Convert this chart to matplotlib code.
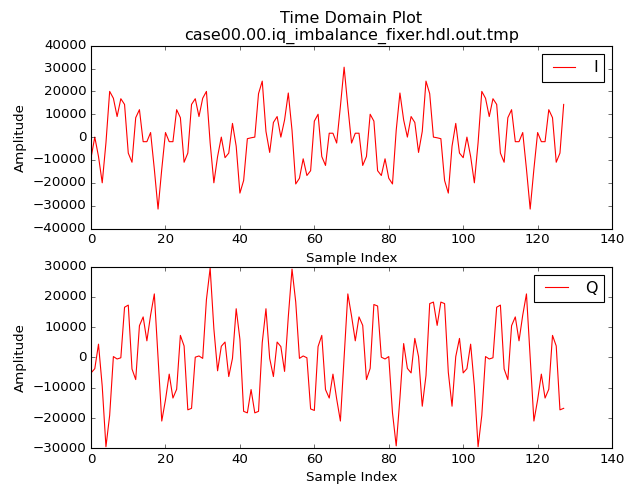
import matplotlib
matplotlib.use('Agg')
import matplotlib.pyplot as plt

# I / Q samples
I_VALS = [-9000, 0, -8500, -20000, -2500, 20000, 17000, 9000, 16800, 14300,
          -7000, -11000, 8500, 12000, -2000, -2000, 2000, -14000, -31500, -14000,
          2000, -2000, -2000, 12000, 8500, -11000, -7000, 14300, 16800, 9000,
          17000, 20000, -2500, -20000, -8500, 0, -9000, -7000, 6000, -4000,
          -24500, -19000, -700, -300, 0, 19000, 24500, 2500, -6700, 6400,
          9000, 0, 7500, 19300, 3000, -20500, -18000, -9500, -16800, -14700,
          7000, 10000, -8500, -12400, 1700, 1700, -2600, 13400, 30600, 13400,
          -2600, 1700, 1700, -12400, -8500, 10000, 7000, -14700, -16800, -9500,
          -18000, -20500, 3000, 19300, 7500, 0, 9000, 6400, -6700, 2500,
          24500, 19000, 0, -300, -700, -19000, -24500, -4000, 6000, -7000,
          -9000, 0, -8500, -20000, -2500, 20000, 17000, 9000, 16800, 14300,
          -7000, -11000, 8500, 12000, -2000, -2000, 2000, -14000, -31500, -14000,
          2000, -2000, -2000, 12000, 8500, -11000, -7000, 14300]

Q_VALS = [-5100, -3700, 4400, -9500, -29500, -19100, 300, -500, -100, 16600,
          17300, -3800, -7300, 10500, 13400, 5500, 14000, 21000, 0, -21000,
          -14000, -5500, -13400, -10500, 7300, 3800, -17300, -16800, 100, 500,
          -300, 19100, 29500, 9500, -4400, 3700, 5100, -6300, -300, 16100,
          6000, -17800, -18300, -10600, -18300, -17800, 4900, 16100, -300, -6300,
          5100, 3600, -4600, 13400, 29200, 18300, -300, 500, -100, -17000,
          -17500, 3600, 7300, -10600, -13400, -5500, -13700, -21000, 0, 21000,
          13700, 5500, 13400, 10600, -7300, -3600, 17500, 17000, 100, -500,
          300, -18300, -29200, -13400, 4600, -3600, -5100, 6300, 300, -16100,
          -6000, 17800, 18300, 10600, 18300, 17800, -4900, -16100, 300, 6300,
          -5100, -3700, 4400, -9500, -29500, -19100, 300, -500, -100, 16600,
          17300, -3800, -7300, 10500, 13400, 5500, 14000, 21000, 0, -21000,
          -14000, -5500, -13400, -10500, 7300, 3800, -17300, -16800]

TITLE = "Time Domain Plot\ncase00.00.iq_imbalance_fixer.hdl.out.tmp"

plt.style.use('classic')

fig = plt.figure(figsize=(628 / 80.0, 493 / 80.0), dpi=80, facecolor='w')

ax1 = fig.add_axes([0.145, 0.5365, 0.8296, 0.3708])
ax1.plot(range(len(I_VALS)), I_VALS, color='r', label='I')
ax1.set_title(TITLE)
ax1.set_xlabel("Sample Index")
ax1.set_ylabel("Amplitude")
ax1.set_xlim(0, 140)
ax1.set_ylim(-40000, 40000)
ax1.legend(loc='upper right')

ax2 = fig.add_axes([0.145, 0.0907, 0.8296, 0.3684])
ax2.plot(range(len(Q_VALS)), Q_VALS, color='r', label='Q')
ax2.set_xlabel("Sample Index")
ax2.set_ylabel("Amplitude")
ax2.set_xlim(0, 140)
ax2.set_ylim(-30000, 30000)
ax2.legend(loc='upper right')

fig.savefig("out.png", dpi=80, facecolor='w')
